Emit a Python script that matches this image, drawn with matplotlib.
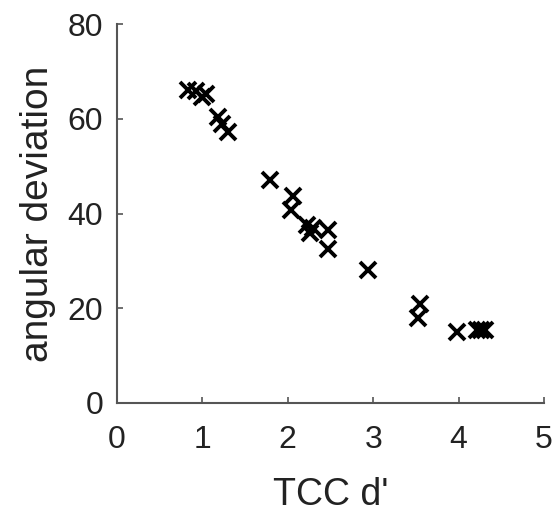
import matplotlib
matplotlib.use('Agg')
import matplotlib.pyplot as plt

plt.rcParams['font.family'] = ['Liberation Sans', 'DejaVu Sans']

# TCC d' vs angular deviation
tcc_d = [0.83, 0.93, 1.0, 1.04, 1.18, 1.23, 1.30, 1.79, 2.06, 2.04,
         2.22, 2.26, 2.30, 2.47, 2.47, 2.94, 3.55, 3.53, 3.98, 4.21, 4.26, 4.31]
ang_dev = [66.0, 65.8, 64.5, 65.3, 60.3, 59.0, 57.2, 47.0, 43.6, 40.7,
           37.5, 35.9, 37.0, 36.5, 32.5, 28.0, 20.9, 18.0, 15.0, 15.4, 15.4, 15.4]

fig = plt.figure(figsize=(5.53, 5.12), dpi=100)
ax = fig.add_axes([0.2116, 0.2129, 0.7721, 0.7401])
ax.plot(tcc_d, ang_dev, 'x', color='black', markersize=11, markeredgewidth=2.8)

ax.set_xlim(0, 5)
ax.set_ylim(0, 80)
ax.set_xticks([0, 1, 2, 3, 4, 5])
ax.set_yticks([0, 20, 40, 60, 80])
ax.spines['top'].set_visible(False)
ax.spines['right'].set_visible(False)
for s in ['left', 'bottom']:
    ax.spines[s].set_color('#555555')
    ax.spines[s].set_linewidth(1.5)
ax.tick_params(direction='in', length=4, width=1.2, color='#555555',
               labelsize=23, labelcolor='#222222')
ax.tick_params(axis='x', pad=16)
ax.tick_params(axis='y', pad=10)
ax.set_xlabel("TCC d'", fontsize=27, color='#222222', labelpad=16)
ax.set_ylabel('angular deviation', fontsize=28, color='#222222', labelpad=8)

fig.savefig('out.png', dpi=100)
